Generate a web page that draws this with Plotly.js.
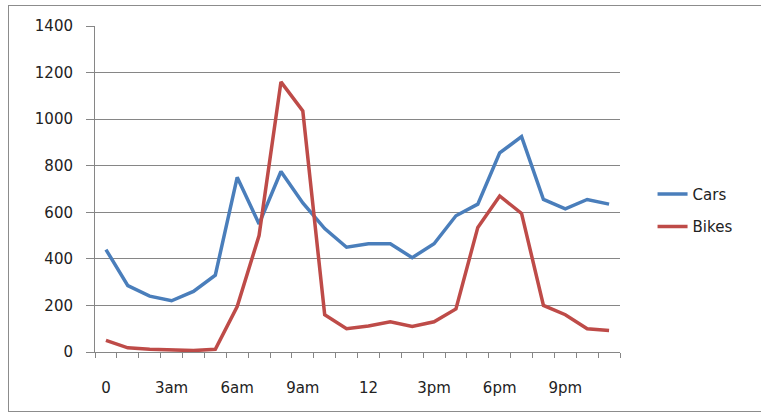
<!DOCTYPE html>
<html>
<head>
<meta charset="utf-8">
<script src="https://cdn.plot.ly/plotly-3.0.1.min.js"></script>
<style>
html,body{margin:0;padding:0;background:#fff;}
#frame{position:absolute;left:8px;top:5px;width:760px;height:407px;border-top:1px solid #8c8c8c;border-left:1px solid #8c8c8c;border-bottom:1px solid #8c8c8c;box-sizing:border-box;}
#chart{position:absolute;left:0;top:0;width:761px;height:417px;}
</style>
</head>
<body>
<div id="frame"></div>
<div id="chart"></div>
<script>
const hours = [0,1,2,3,4,5,6,7,8,9,10,11,12,13,14,15,16,17,18,19,20,21,22,23];
const tickPositions = [0,3,6,9,12,15,18,21];
const tickLabels = ["0","3am","6am","9am","12","3pm","6pm","9pm"];
const cars  = [440,285,240,220,260,330,750,550,775,640,530,450,465,465,405,465,585,635,855,925,655,615,655,635];
const bikes = [50,18,12,8,6,12,195,500,1160,1035,160,100,112,130,110,130,185,535,670,595,200,160,100,92];

const font = {family:"DejaVu Sans, Verdana, sans-serif", size:15, color:"#222"};
const traces = [
  {x:hours, y:cars, name:"Cars", type:"scatter", mode:"lines", legendgroup:"a",
   line:{color:"#4A7EBB", width:3.5}},
  {x:hours, y:bikes, name:"Bikes", type:"scatter", mode:"lines", legendgroup:"b",
   line:{color:"#BE4B48", width:3.5}}
];
const layout = {
  width:761, height:417,
  margin:{l:95, r:141, t:26, b:65},
  paper_bgcolor:"rgba(0,0,0,0)", plot_bgcolor:"#fff",
  font:font,
  showlegend:true,
  legend:{x:1.062, xanchor:"left", y:0.435, yanchor:"middle", tracegroupgap:10,
          font:{family:font.family, size:15, color:"#222"}, bgcolor:"rgba(0,0,0,0)"},
  xaxis:{range:[-0.5,23.5], tickmode:"array", tickvals:tickPositions, ticktext:tickLabels,
         showgrid:false, zeroline:false, showline:true, linecolor:"#868686", linewidth:1,
         ticks:"", ticklabelstandoff:22, tickfont:font,
         minor:{ticks:"outside", tick0:-0.5, dtick:1, ticklen:5, tickcolor:"#868686", showgrid:false}},
  yaxis:{range:[0,1400], dtick:200, tick0:0, showgrid:true, gridcolor:"#868686", gridwidth:1,
         zeroline:false, showline:true, linecolor:"#868686", linewidth:1,
         ticks:"outside", ticklen:8, tickcolor:"#868686", ticklabelstandoff:10, tickfont:font}
};
Plotly.newPlot("chart", traces, layout, {displayModeBar:false, staticPlot:true});
</script>
</body>
</html>
